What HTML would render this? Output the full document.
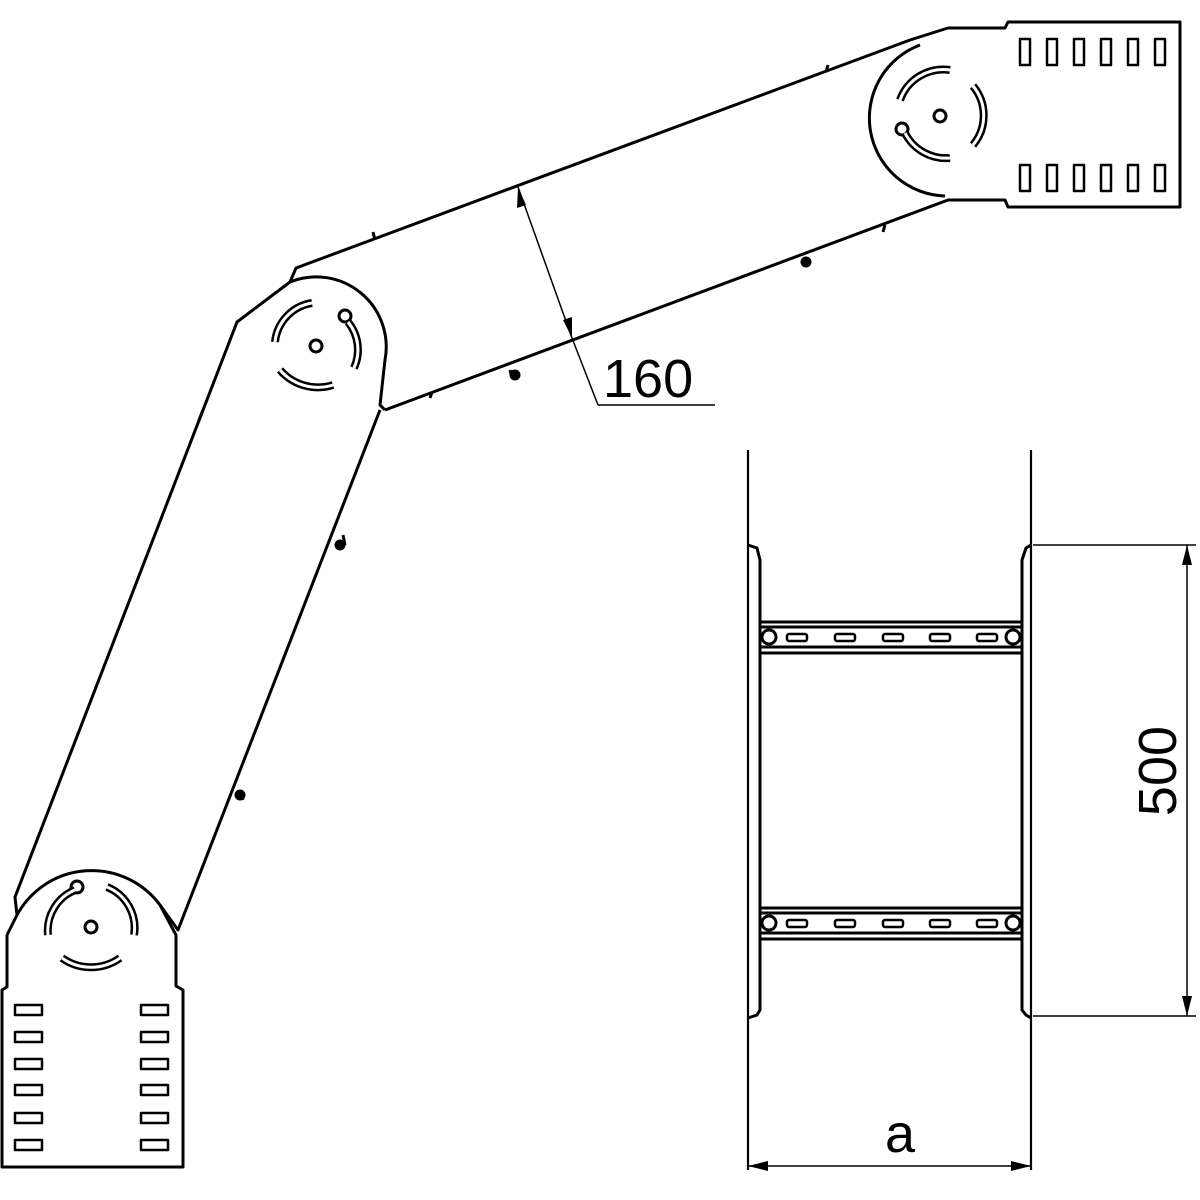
<!DOCTYPE html>
<html><head><meta charset="utf-8"><style>html,body{margin:0;padding:0;background:#fff}svg{display:block}</style></head>
<body>
<svg width="1200" height="1200" viewBox="0 0 1200 1200" xmlns="http://www.w3.org/2000/svg" font-family="Liberation Sans, sans-serif">
<g fill="none" stroke="#000" stroke-width="3" stroke-linejoin="round">
<!-- bottom plate -->
<path d="M7,935 L7,987 L2,990 L2,1167 L183,1167 L183,990 L176,986 L176,935 L160,905 A85,85 0 0 0 17,915 L7,935"/>
<g stroke-width="2.5">
<rect x="15" y="1005" width="27" height="10"/><rect x="15" y="1032" width="27" height="10"/><rect x="15" y="1059" width="27" height="10"/><rect x="15" y="1085" width="27" height="10"/><rect x="15" y="1113" width="27" height="10"/><rect x="15" y="1140" width="27" height="10"/>
<rect x="141" y="1005" width="27" height="10"/><rect x="141" y="1032" width="27" height="10"/><rect x="141" y="1059" width="27" height="10"/><rect x="141" y="1085" width="27" height="10"/><rect x="141" y="1113" width="27" height="10"/><rect x="141" y="1140" width="27" height="10"/>
</g>
<circle cx="91" cy="927" r="6"/>
<circle cx="77" cy="887" r="6"/>
<path d="M75,890 A44,44 0 0 0 48,935" stroke-width="8"/><path d="M75,890 A44,44 0 0 0 48,935" stroke="#fff" stroke-width="3"/>
<path d="M107,887 A44,44 0 0 1 134,935" stroke-width="8"/><path d="M107,887 A44,44 0 0 1 134,935" stroke="#fff" stroke-width="3"/>
<path d="M62,958 A50,50 0 0 0 120,958" stroke-width="8"/><path d="M62,958 A50,50 0 0 0 120,958" stroke="#fff" stroke-width="3"/>
<!-- lower arm -->
<path d="M17,915 L15,897 L237,322 L290,282"/>
<path d="M160,905 L178,930 L380,410"/>
<path d="M290,282 A70,70 0 0 1 385,360 L380,405 L385,410"/>
<path d="M203,410 L199,420 M343,535 L345,545 M240,790 L243,800"/>
<circle cx="340" cy="545" r="4" fill="#000"/><circle cx="240" cy="795" r="4" fill="#000"/>
<circle cx="316" cy="346" r="6"/>
<circle cx="345" cy="316" r="6"/>
<path d="M312,303 A44,44 0 0 0 275,342" stroke-width="8"/><path d="M312,303 A44,44 0 0 0 275,342" stroke="#fff" stroke-width="3"/>
<path d="M348,322 A44,44 0 0 1 354,368" stroke-width="8"/><path d="M348,322 A44,44 0 0 1 354,368" stroke="#fff" stroke-width="3"/>
<path d="M280,370 A50,50 0 0 0 333,385" stroke-width="8"/><path d="M280,370 A50,50 0 0 0 333,385" stroke="#fff" stroke-width="3"/>
<!-- upper arm -->
<path d="M290,282 L296,268 L910,40 L948,28 L1005,28 L1008,22 L1180,22 L1180,207 L1008,207 L1005,200 L948,200 L385,410"/>
<path d="M920,45 A78,78 0 0 0 945,196"/>
<path d="M373,232 L375,240 M828,65 L826,72 M510,370 L512,378 M808,258 L806,266 M885,225 L883,232 M432,392 L430,398"/>
<circle cx="515" cy="375" r="4" fill="#000"/><circle cx="806" cy="262" r="4" fill="#000"/>
<circle cx="940" cy="116" r="6"/>
<circle cx="902" cy="129" r="6"/>
<path d="M950,70 A46,46 0 0 0 900,100" stroke-width="8"/><path d="M950,70 A46,46 0 0 0 900,100" stroke="#fff" stroke-width="3"/>
<path d="M973,86 A46,46 0 0 1 973,145" stroke-width="8"/><path d="M973,86 A46,46 0 0 1 973,145" stroke="#fff" stroke-width="3"/>
<path d="M905,133 A46,46 0 0 0 950,158" stroke-width="8"/><path d="M905,133 A46,46 0 0 0 950,158" stroke="#fff" stroke-width="3"/>
<g stroke-width="2.5">
<rect x="1020" y="39" width="10" height="26"/><rect x="1047" y="39" width="10" height="26"/><rect x="1074" y="39" width="10" height="26"/><rect x="1101" y="39" width="10" height="26"/><rect x="1128" y="39" width="10" height="26"/><rect x="1155" y="39" width="10" height="26"/>
<rect x="1020" y="165" width="10" height="26"/><rect x="1047" y="165" width="10" height="26"/><rect x="1074" y="165" width="10" height="26"/><rect x="1101" y="165" width="10" height="26"/><rect x="1128" y="165" width="10" height="26"/><rect x="1155" y="165" width="10" height="26"/>
</g>
</g>
<!-- 160 dimension -->
<g stroke="#000" stroke-width="1.5" fill="none">
<line x1="518" y1="187" x2="572" y2="338"/>
<line x1="572" y1="338" x2="598" y2="405"/><line x1="598" y1="405" x2="715" y2="405"/>
</g>
<polygon points="518,187 517,208 526,205" fill="#000"/>
<polygon points="572,338 563,320 572,317" fill="#000"/>
<text x="603" y="397" font-size="54">160</text>
<!-- right view -->
<g fill="none" stroke="#000" stroke-width="3">
<line x1="748" y1="450" x2="748" y2="1170" stroke-width="2.2"/>
<line x1="1031" y1="450" x2="1031" y2="1170" stroke-width="2.2"/>
<path d="M748,545 L757,548 L760,560 L760,1010 L757,1015 L748,1018"/>
<path d="M1031,545 L1026,548 L1022,560 L1022,1010 L1026,1015 L1031,1018"/>
<line x1="760" y1="622" x2="1022" y2="622"/><line x1="760" y1="627" x2="1022" y2="627"/>
<line x1="760" y1="647" x2="1022" y2="647"/><line x1="760" y1="653" x2="1022" y2="653"/>
<circle cx="769" cy="637" r="7"/><circle cx="1013" cy="637" r="7"/>
<line x1="760" y1="908" x2="1022" y2="908"/><line x1="760" y1="913" x2="1022" y2="913"/>
<line x1="760" y1="933" x2="1022" y2="933"/><line x1="760" y1="939" x2="1022" y2="939"/>
<circle cx="769" cy="923" r="7"/><circle cx="1013" cy="923" r="7"/>
<g stroke-width="2.5">
<rect x="787" y="634" width="20" height="7" rx="2"/><rect x="835" y="634" width="20" height="7" rx="2"/><rect x="883" y="634" width="20" height="7" rx="2"/><rect x="930" y="634" width="20" height="7" rx="2"/><rect x="977" y="634" width="20" height="7" rx="2"/>
<rect x="787" y="920" width="20" height="7" rx="2"/><rect x="835" y="920" width="20" height="7" rx="2"/><rect x="883" y="920" width="20" height="7" rx="2"/><rect x="930" y="920" width="20" height="7" rx="2"/><rect x="977" y="920" width="20" height="7" rx="2"/>
</g>
</g>
<g stroke="#000" stroke-width="1.5">
<line x1="1033" y1="545" x2="1196" y2="545"/><line x1="1033" y1="1016" x2="1196" y2="1016"/>
<line x1="1187" y1="545" x2="1187" y2="1016"/>
<line x1="748" y1="1166" x2="1031" y2="1166"/>
</g>
<polygon points="1187,545 1182,565 1192,565" fill="#000"/>
<polygon points="1187,1016 1182,996 1192,996" fill="#000"/>
<polygon points="748,1166 768,1161 768,1171" fill="#000"/>
<polygon points="1031,1166 1011,1161 1011,1171" fill="#000"/>
<text x="1176" y="771" font-size="54" text-anchor="middle" transform="rotate(-90 1176 771)">500</text>
<text x="900" y="1152" font-size="54" text-anchor="middle">a</text>
</svg>
</body></html>
